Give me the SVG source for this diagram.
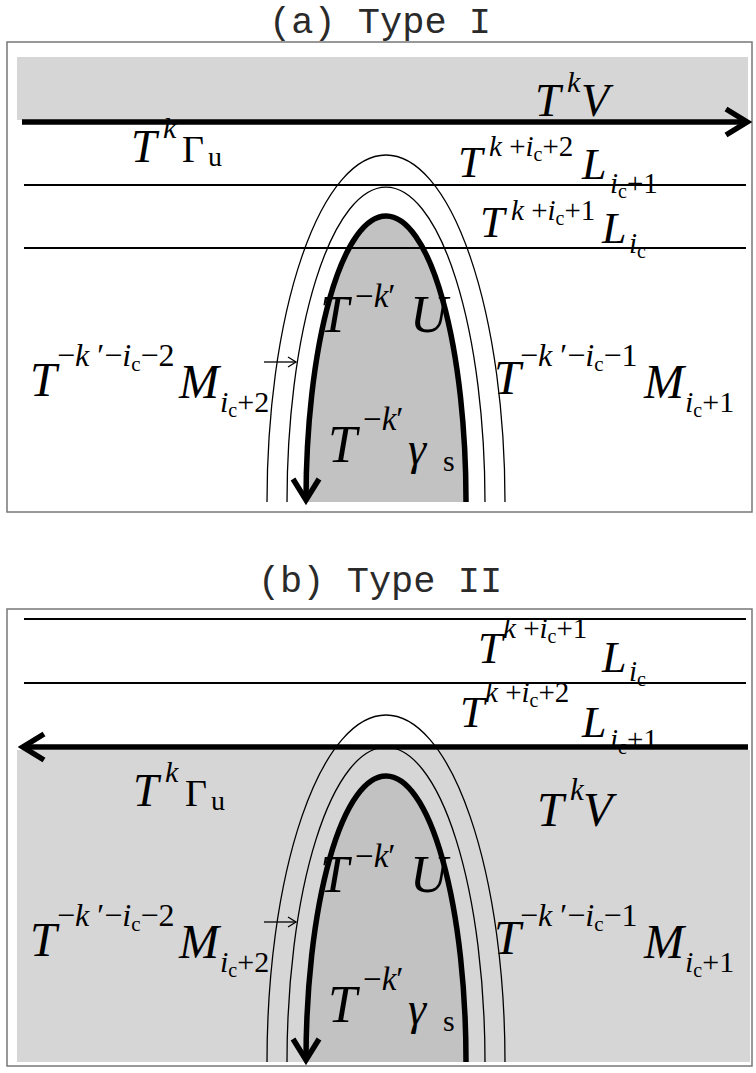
<svg xmlns="http://www.w3.org/2000/svg" width="756" height="1073" viewBox="0 0 756 1073">
<style>
.ttl{font-family:"Liberation Mono","Courier New",monospace;font-size:37px;fill:#2a2a2a;text-anchor:middle}
.m{font-family:"Liberation Serif","Times New Roman",serif;font-style:italic;fill:#000}
.r{font-style:normal}
.frame{fill:#fff;stroke:#777;stroke-width:1.5}
.thin{fill:none;stroke:#000;stroke-width:1.3}
.hl{fill:none;stroke:#000;stroke-width:2}
.thick{fill:none;stroke:#000;stroke-width:5.5}
.band{fill:#d6d6d6}
.inner{fill:#c2c2c2}
</style>
<defs>
<marker id="chev" markerUnits="userSpaceOnUse" viewBox="0 0 32 32" markerWidth="32" markerHeight="32" refX="27" refY="16" orient="auto">
<path d="M6,3 L27,16 L6,29" fill="none" stroke="#000" stroke-width="5.5" stroke-linejoin="miter"/>
</marker>
<marker id="small" markerUnits="userSpaceOnUse" viewBox="0 0 12 12" markerWidth="12" markerHeight="12" refX="10" refY="6" orient="auto">
<path d="M2,1 L10,6 L2,11" fill="none" stroke="#000" stroke-width="1.3"/>
</marker>
</defs>

<!-- Panel a -->
<text id="title-a" class="ttl" x="380" y="33">(a) Type I</text>
<g id="panel-a">
<rect class="frame" x="7" y="42" width="745" height="470"/>
<rect class="band" x="17" y="57" width="731" height="63"/>
<path class="inner" d="M306,502 A80,285 0 0 1 466,502 Z"/>
</g>
<g id="connectors-a">
<path class="thin" d="M267,502 A119,347 0 0 1 505,502"/>
<path class="thin" d="M287,502 A99,315 0 0 1 485,502"/>
<line class="hl" x1="24" y1="185" x2="746" y2="185"/>
<line class="hl" x1="24" y1="248" x2="746" y2="248"/>
<line class="thick" x1="22" y1="122" x2="747" y2="122" marker-end="url(#chev)"/>
<path class="thick" d="M466,502 A80,285 0 0 0 306,500" marker-end="url(#chev)"/>
<line class="thin" x1="264" y1="362" x2="296" y2="362" marker-end="url(#small)"/>
</g>
<g id="lbl-a-TkV">
<text class="m" x="535" y="116" font-size="46">T</text>
<text class="m" x="567" y="92" font-size="30">k</text>
<text class="m" x="581" y="116" font-size="46">V</text>
</g>
<g id="lbl-a-TkGu">
<text class="m" x="131" y="162" font-size="46">T</text>
<text class="m" x="163" y="138" font-size="30">k</text>
<text class="m r" x="182" y="162" font-size="38">Γ</text>
<text class="m r" x="208" y="166" font-size="28">u</text>
</g>
<g id="lbl-a-L2">
<text class="m" x="458" y="177" font-size="44">T</text>
<text class="m" x="489" y="156" font-size="29">k<tspan class="r"> +</tspan>i<tspan class="r" font-size="20" dy="5">c</tspan><tspan class="r" dy="-5">+2</tspan></text>
<text class="m" x="582" y="179" font-size="44">L</text>
<text class="m" x="610" y="193" font-size="29">i<tspan class="r" font-size="20" dy="5">c</tspan><tspan class="r" dy="-5">+1</tspan></text>
</g>
<g id="lbl-a-L1">
<text class="m" x="480" y="237" font-size="44">T</text>
<text class="m" x="511" y="220" font-size="29">k<tspan class="r"> +</tspan>i<tspan class="r" font-size="20" dy="5">c</tspan><tspan class="r" dy="-5">+1</tspan></text>
<text class="m" x="602" y="243" font-size="44">L</text>
<text class="m" x="629" y="253" font-size="29">i<tspan class="r" font-size="20" dy="5">c</tspan></text>
</g>
<g id="lbl-a-U">
<text class="m" x="320" y="332" font-size="52">T</text>
<text class="m" x="355" y="307" font-size="33"><tspan class="r">−</tspan>k<tspan class="r">′</tspan></text>
<text class="m" x="410" y="332" font-size="52">U</text>
</g>
<g id="lbl-a-M2">
<text class="m" x="30" y="396" font-size="48">T</text>
<text class="m" x="57" y="366" font-size="32"><tspan class="r">−</tspan>k<tspan class="r"> ′−</tspan>i<tspan class="r" font-size="21" dy="5">c</tspan><tspan class="r" dy="-5">−2</tspan></text>
<text class="m" x="179" y="398" font-size="48">M</text>
<text class="m" x="220" y="412" font-size="30">i<tspan class="r" font-size="20" dy="5">c</tspan><tspan class="r" dy="-5">+2</tspan></text>
</g>
<g id="lbl-a-M1">
<text class="m" x="494" y="394" font-size="48">T</text>
<text class="m" x="520" y="366" font-size="32"><tspan class="r">−</tspan>k<tspan class="r"> ′−</tspan>i<tspan class="r" font-size="21" dy="5">c</tspan><tspan class="r" dy="-5">−1</tspan></text>
<text class="m" x="644" y="398" font-size="48">M</text>
<text class="m" x="685" y="412" font-size="30">i<tspan class="r" font-size="20" dy="5">c</tspan><tspan class="r" dy="-5">+1</tspan></text>
</g>
<g id="lbl-a-gs">
<text class="m" x="328" y="462" font-size="52">T</text>
<text class="m" x="363" y="430" font-size="33"><tspan class="r">−</tspan>k<tspan class="r">′</tspan></text>
<text class="m" x="408" y="464" font-size="46">γ</text>
<text class="m r" x="443" y="471" font-size="30">s</text>
</g>

<!-- Panel b -->
<text id="title-b" class="ttl" x="380" y="592">(b) Type II</text>
<g id="panel-b">
<rect class="frame" x="7" y="609" width="745" height="457"/>
<rect class="band" x="17" y="750" width="733" height="312"/>
<path class="inner" d="M306,1062 A80,285 0 0 1 466,1062 Z"/>
</g>
<g id="connectors-b">
<path class="thin" d="M267,1062 A119,347 0 0 1 505,1062"/>
<path class="thin" d="M287,1062 A99,315 0 0 1 485,1062"/>
<line class="hl" x1="24" y1="619" x2="746" y2="619"/>
<line class="hl" x1="24" y1="683" x2="746" y2="683"/>
<line class="thick" x1="748" y1="747" x2="23" y2="747" marker-end="url(#chev)"/>
<path class="thick" d="M466,1062 A80,285 0 0 0 306,1060" marker-end="url(#chev)"/>
<line class="thin" x1="264" y1="922" x2="296" y2="922" marker-end="url(#small)"/>
</g>
<g id="lbl-b-L1">
<text class="m" x="478" y="663" font-size="44">T</text>
<text class="m" x="503" y="638" font-size="29">k<tspan class="r"> +</tspan>i<tspan class="r" font-size="20" dy="5">c</tspan><tspan class="r" dy="-5">+1</tspan></text>
<text class="m" x="602" y="672" font-size="44">L</text>
<text class="m" x="629" y="681" font-size="29">i<tspan class="r" font-size="20" dy="5">c</tspan></text>
</g>
<g id="lbl-b-L2">
<text class="m" x="460" y="727" font-size="44">T</text>
<text class="m" x="485" y="702" font-size="29">k<tspan class="r"> +</tspan>i<tspan class="r" font-size="20" dy="5">c</tspan><tspan class="r" dy="-5">+2</tspan></text>
<text class="m" x="582" y="737" font-size="44">L</text>
<text class="m" x="610" y="749" font-size="29">i<tspan class="r" font-size="20" dy="5">c</tspan><tspan class="r" dy="-5">+1</tspan></text>
</g>
<g id="lbl-b-TkGu">
<text class="m" x="133" y="806" font-size="46">T</text>
<text class="m" x="165" y="782" font-size="30">k</text>
<text class="m r" x="185" y="806" font-size="38">Γ</text>
<text class="m r" x="211" y="810" font-size="28">u</text>
</g>
<g id="lbl-b-TkV">
<text class="m" x="537" y="826" font-size="48">T</text>
<text class="m" x="570" y="800" font-size="31">k</text>
<text class="m" x="583" y="826" font-size="48">V</text>
</g>
<g id="lbl-b-U">
<text class="m" x="320" y="892" font-size="52">T</text>
<text class="m" x="355" y="867" font-size="33"><tspan class="r">−</tspan>k<tspan class="r">′</tspan></text>
<text class="m" x="410" y="892" font-size="52">U</text>
</g>
<g id="lbl-b-M2">
<text class="m" x="30" y="956" font-size="48">T</text>
<text class="m" x="57" y="926" font-size="32"><tspan class="r">−</tspan>k<tspan class="r"> ′−</tspan>i<tspan class="r" font-size="21" dy="5">c</tspan><tspan class="r" dy="-5">−2</tspan></text>
<text class="m" x="179" y="958" font-size="48">M</text>
<text class="m" x="220" y="972" font-size="30">i<tspan class="r" font-size="20" dy="5">c</tspan><tspan class="r" dy="-5">+2</tspan></text>
</g>
<g id="lbl-b-M1">
<text class="m" x="494" y="954" font-size="48">T</text>
<text class="m" x="520" y="926" font-size="32"><tspan class="r">−</tspan>k<tspan class="r"> ′−</tspan>i<tspan class="r" font-size="21" dy="5">c</tspan><tspan class="r" dy="-5">−1</tspan></text>
<text class="m" x="644" y="958" font-size="48">M</text>
<text class="m" x="685" y="972" font-size="30">i<tspan class="r" font-size="20" dy="5">c</tspan><tspan class="r" dy="-5">+1</tspan></text>
</g>
<g id="lbl-b-gs">
<text class="m" x="328" y="1022" font-size="52">T</text>
<text class="m" x="363" y="990" font-size="33"><tspan class="r">−</tspan>k<tspan class="r">′</tspan></text>
<text class="m" x="408" y="1024" font-size="46">γ</text>
<text class="m r" x="443" y="1031" font-size="30">s</text>
</g>
</svg>
